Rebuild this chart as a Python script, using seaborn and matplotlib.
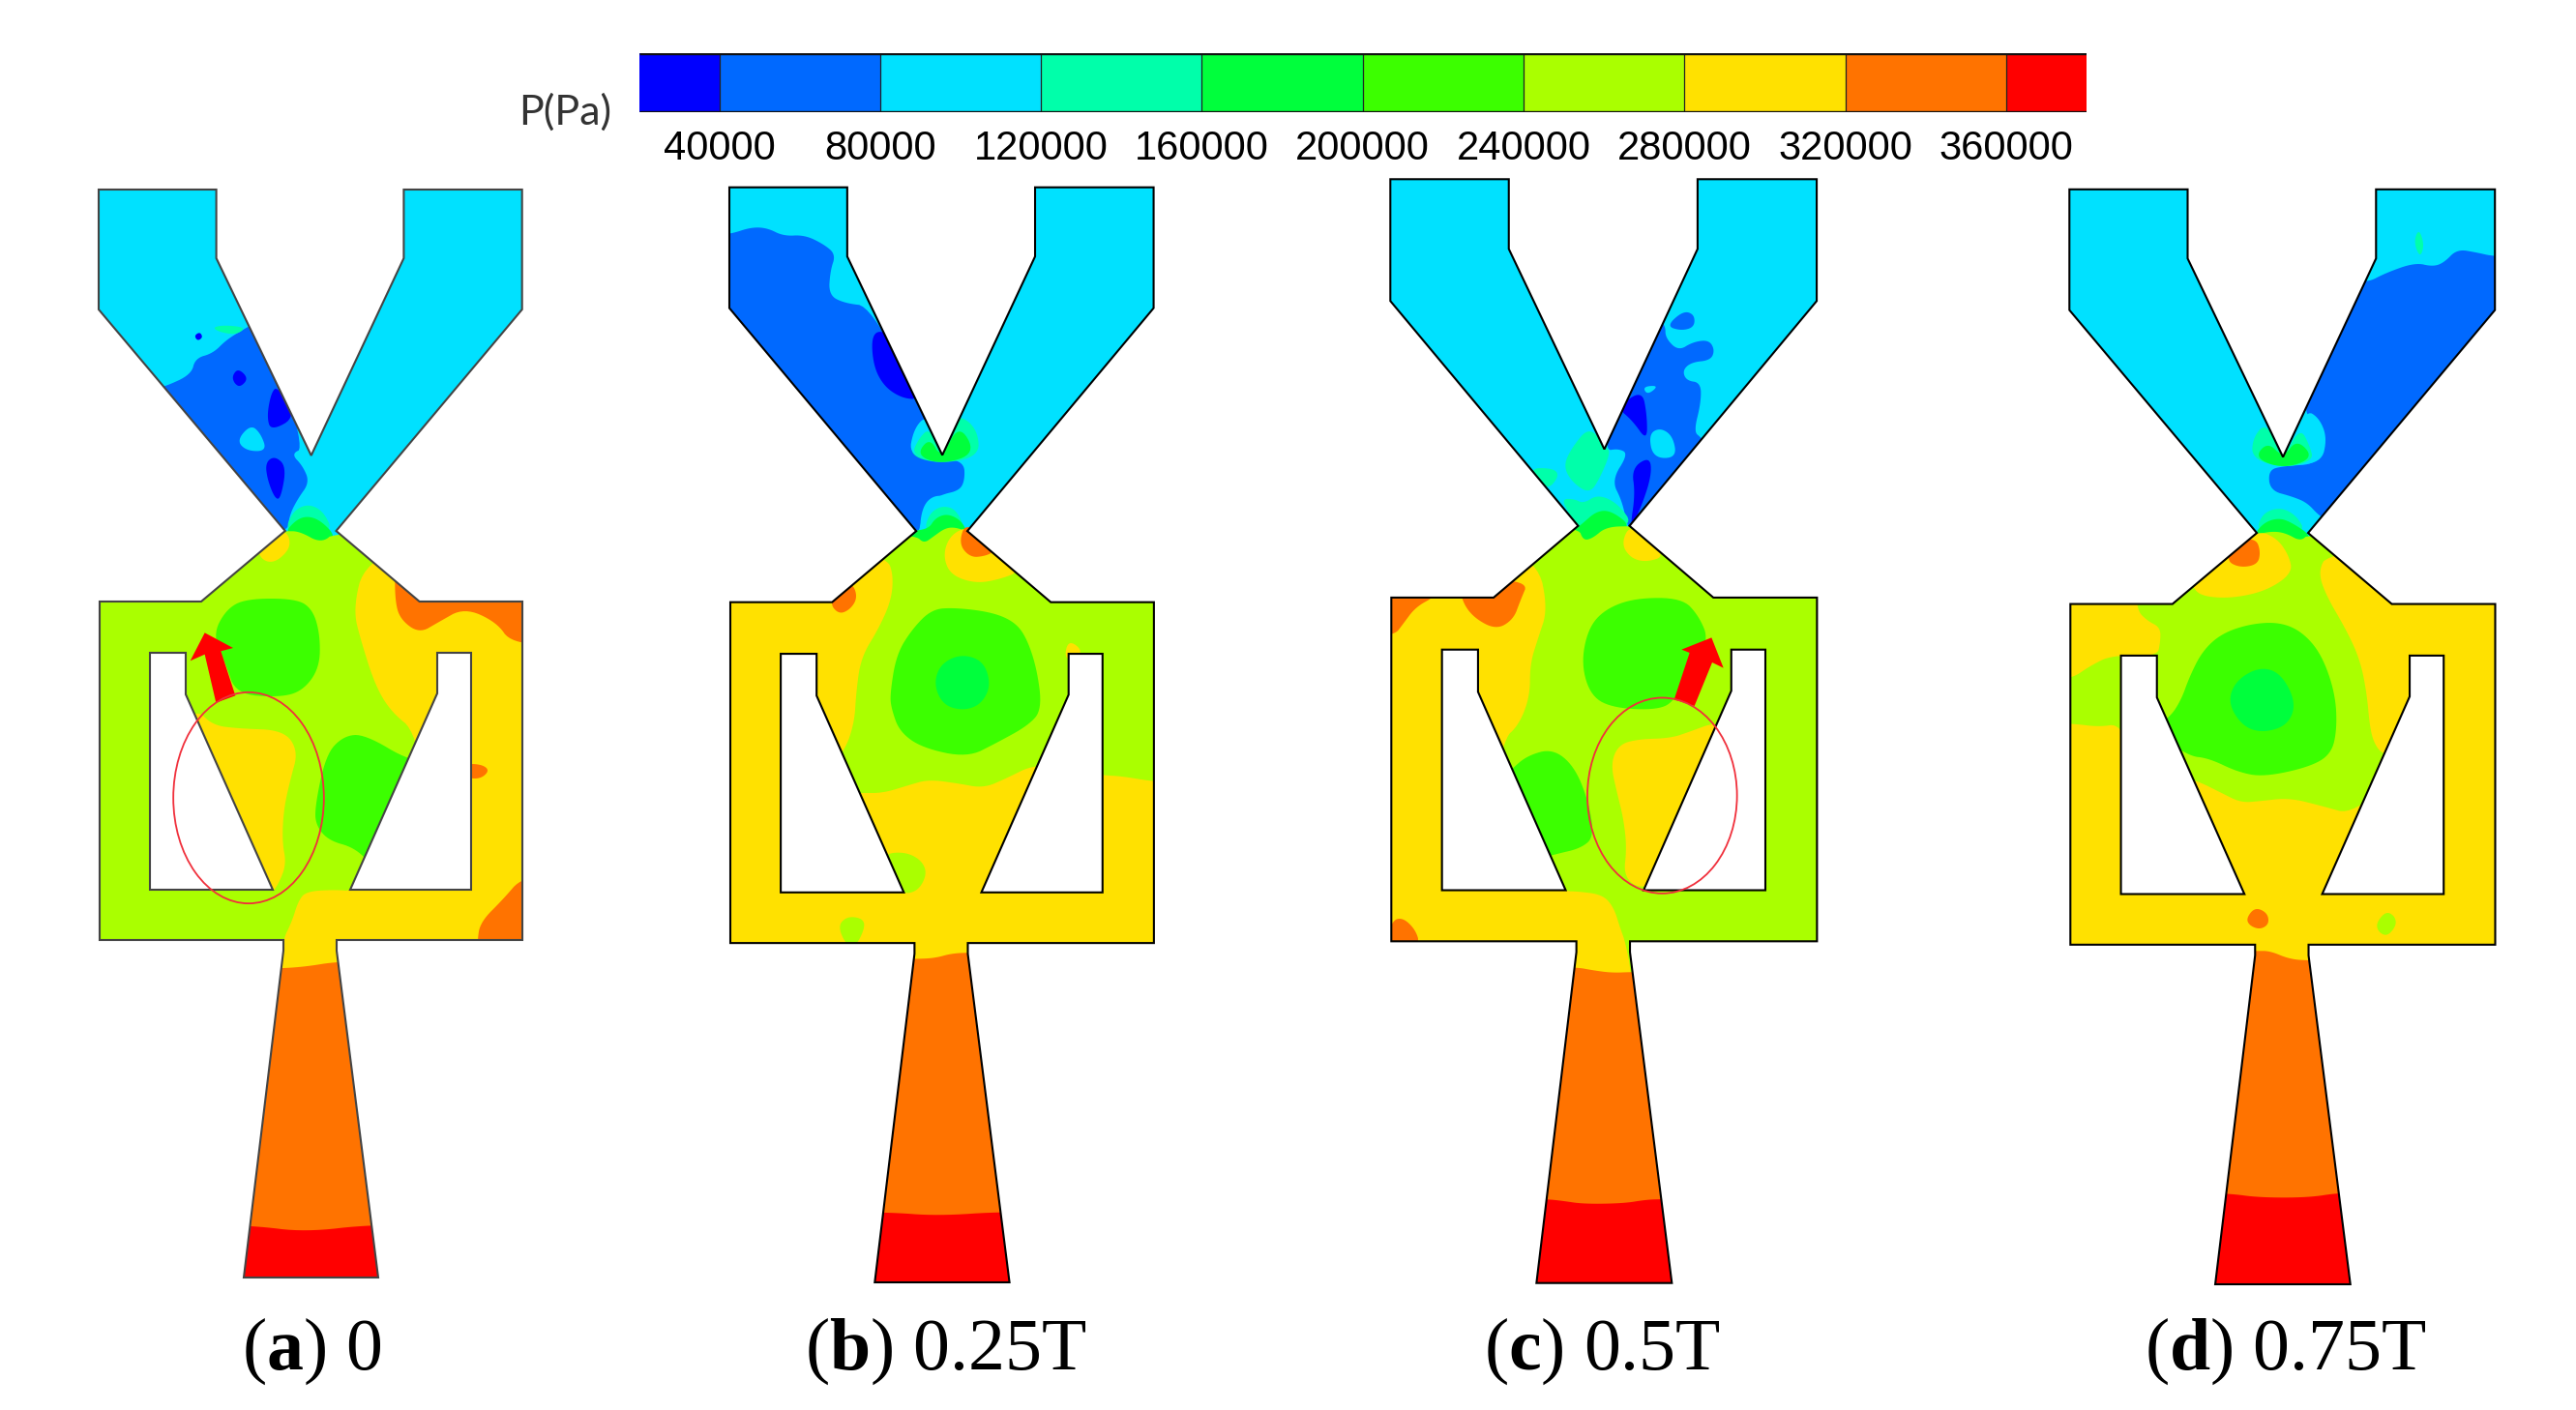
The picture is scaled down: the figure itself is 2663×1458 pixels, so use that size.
"""
plot.py - pressure contours P(Pa) in the valve at 0, 0.25T, 0.5T, 0.75T.
Contour bands were traced by hand from enlarged crops of the picture.
"""
import numpy as np
import matplotlib
matplotlib.use('Agg')
import matplotlib.pyplot as plt
from matplotlib.colors import ListedColormap, BoundaryNorm
from matplotlib.patches import Polygon, Ellipse
import seaborn as sns

# ─── COLOUR SCALE ───────────────────────────────────────────────────────────
LEVEL_COLORS = ['#0000FF', '#0069FF', '#00E1FF', '#00FFAA', '#00FF3C',
                '#3CFF00', '#AAFF00', '#FFE100', '#FF7300', '#FF0000']
LEVEL_EDGES = [20000, 40000, 80000, 120000, 160000, 200000,
               240000, 280000, 320000, 360000, 380000]
BAR_VALUES = [30000, 50000, 70000, 90000, 110000, 130000, 150000, 170000, 190000,
              210000, 230000, 250000, 270000, 290000, 310000, 330000, 350000, 370000]
BAR_TICKS = ['40000', '80000', '120000', '160000', '200000',
             '240000', '280000', '320000', '360000']

# ─── CROPS THE TRACES WERE READ FROM: x0, y0, x scale, y scale ──────────────
UP_A = (60, 160, 2.904, 2.376)
UP_B = (720, 160, 3, 2.376)
UP_C = (1420, 160, 3, 2.376)
UP_D = (2130, 160, 3, 2.376)
LOW_A = (80, 620, 3, 3)
LOW_B = (740, 620, 3, 3)
LOW_C = (1430, 620, 3, 3)
LOW_D = (2140, 620, 3, 3)
BOTTOM = (200, 1230, 1.3, 3)
BOTTOM_R = (1500, 1200, 1.568, 3)

# ─── VALVE GEOMETRY (px from the top left corner of the outlet) ─────────────
OUTLINE = [(0, 0), (121.6, 0), (121.6, 71), (219.7, 275), (315.4, 71), (315.4, 0),
           (437.7, 0), (437.7, 124), (245.5, 353), (331.6, 426), (438, 426), (438, 776),
           (246, 776), (246, 787), (289, 1125), (150, 1125), (191, 787), (191, 776),
           (1, 776), (1, 426), (106, 426), (192.8, 353), (0, 124)]
HOLE_LEFT = [(53, 479), (90, 479), (90, 522), (180, 724), (53, 724)]
HOLE_RIGHT = [(350, 479), (385, 479), (385, 724), (260, 724), (350, 521)]

# x, y, x stretch, y stretch, y of the nozzle end per panel
PLACE_A = (102, 196, 1.0, 1.0, 1321)
PLACE_B = (754, 193.7, 1.002, 1.007, 1326)
PLACE_C = (1437.3, 185.3, 1.007, 1.0155, 1326.7)
PLACE_D = (2139.3, 195.8, 1.005, 1.0065, 1328)

# ─── CONTOUR BANDS: (level, crop, trace), painted in this order ─────────────
REGIONS_A = [
    (1, UP_A, [(320, 570), (400, 540), (412, 500), (465, 488), (505, 455), (555, 430), (620, 400),
               (740, 720), (700, 735), (735, 765), (755, 805), (720, 845), (695, 885), (688, 930),
               (600, 900), (300, 640), (300, 570)]),
    (0, UP_A, [(525, 545), (540, 530), (565, 550), (545, 568), (530, 560)]),
    (0, UP_A, [(655, 575), (700, 640), (640, 670), (630, 640), (640, 590)]),
    (0, UP_A, [(625, 760), (650, 745), (680, 770), (665, 845), (650, 845), (630, 800)]),
    (0, UP_A, [(412, 445), (425, 438), (432, 448), (420, 455)]),
    (2, UP_A, [(545, 705), (580, 670), (605, 690), (620, 728), (570, 728)]),
    (3, UP_A, [(470, 425), (500, 420), (555, 425), (530, 440), (490, 435)]),
    (3, UP_A, [(690, 930), (710, 880), (750, 862), (790, 880), (815, 930)]),
    (4, UP_A, [(690, 930), (720, 900), (750, 890), (785, 900), (825, 935), (790, 960)]),
    (6, UP_A, [(600, 925), (682, 925), (725, 925), (790, 955), (835, 925), (1600, 925),
               (1600, 2200), (0, 2200), (0, 925)]),
    (7, UP_A, [(610, 990), (650, 1000), (695, 970), (695, 940), (670, 925), (600, 950)]),
    (7, LOW_A, [(891, -117), (1100, -200), (1500, -200), (1500, 1200), (630, 1200), (635, 1060),
                (665, 1000), (685, 935), (710, 905), (800, 900), (860, 905), (1100, 700),
                (1050, 410), (975, 350), (925, 270), (880, 130), (855, 30)]),
    (8, LOW_A, [(985, 0), (1000, 60), (1060, 105), (1120, 70), (1200, 25), (1300, 70), (1345, 135),
                (1500, 140), (1500, -100), (985, -100)]),
    (8, LOW_A, [(1240, 1060), (1250, 1000), (1320, 930), (1380, 860), (1500, 860), (1500, 1200),
                (1240, 1200)]),
    (8, LOW_A, [(1200, 510), (1250, 512), (1272, 530), (1245, 555), (1200, 550)]),
    (5, LOW_A, [(430, 110), (470, 30), (530, -3), (680, -3), (730, 30), (752, 110), (750, 210),
                (700, 280), (630, 300), (500, 290), (470, 200)]),
    (5, LOW_A, [(738, 640), (770, 480), (820, 425), (880, 420), (1010, 500), (1100, 500),
                (900, 800), (850, 750), (780, 730), (745, 690)]),
    (7, LOW_A, [(370, 340), (420, 390), (500, 400), (640, 405), (685, 470), (660, 560), (640, 650),
                (635, 750), (648, 820), (625, 880), (600, 915), (500, 800), (330, 400)]),
    (8, LOW_A, [(600, 1145), (700, 1140), (810, 1122), (1000, 1122), (1000, 2400), (400, 2400),
                (400, 1145)]),
    (9, BOTTOM, [(0, 110), (80, 112), (150, 132), (240, 108), (400, 108), (400, 400), (0, 400)]),
]

REGIONS_B = [
    (1, UP_B, [(60, 195), (105, 195), (170, 178), (220, 180), (270, 200), (335, 197), (395, 220),
               (432, 245), (415, 285), (410, 345), (460, 365), (540, 372), (700, 620), (760, 745),
               (830, 755), (832, 800), (815, 825), (760, 835), (715, 855), (695, 900), (690, 930),
               (600, 960), (60, 500)]),
    (0, UP_B, [(545, 445), (580, 435), (610, 480), (680, 600), (630, 598), (580, 570), (550, 520)]),
    (3, UP_B, [(668, 738), (675, 700), (720, 660), (820, 645), (870, 680), (875, 738), (760, 755)]),
    (2, UP_B, [(665, 738), (678, 680), (712, 650), (735, 700), (760, 745)]),
    (3, UP_B, [(675, 738), (695, 700), (720, 680), (760, 745)]),
    (4, UP_B, [(695, 738), (730, 705), (760, 745), (805, 680), (850, 735), (760, 755)]),
    (2, UP_B, [(695, 930), (705, 865), (740, 838), (790, 845), (825, 885), (835, 930)]),
    (3, UP_B, [(712, 930), (725, 885), (760, 865), (800, 875), (825, 930)]),
    (4, UP_B, [(660, 925), (720, 920), (740, 895), (775, 885), (815, 900), (835, 930), (800, 930),
               (735, 950), (705, 960), (670, 945)]),
    (6, UP_B, [(500, 930), (680, 935), (705, 955), (735, 938), (770, 918), (800, 915), (838, 925),
               (1600, 925), (1600, 2200), (0, 2200), (0, 930)]),
    (7, LOW_B, [(530, -130), (300, -200), (-50, -200), (-50, 1500), (1500, 1500), (1500, 570),
                (1360, 565), (1260, 548), (1200, 545), (1100, 530), (990, 510), (900, 555),
                (830, 585), (750, 570), (660, 558), (600, 575), (520, 600), (450, 600), (300, 600),
                (400, 470), (430, 380), (435, 290), (450, 180), (505, 90), (545, 0), (550, -80)]),
    (7, UP_B, [(770, 985), (790, 1030), (860, 1050), (930, 1040), (990, 1020), (900, 960),
               (840, 920), (790, 940)]),
    (8, UP_B, [(820, 960), (850, 988), (890, 985), (915, 975), (840, 915)]),
    (8, UP_B, [(420, 1100), (445, 1125), (475, 1115), (495, 1090), (485, 1060), (450, 1050)]),
    (7, UP_B, [(1145, 1235), (1155, 1200), (1190, 1220), (1170, 1240)]),
    (5, LOW_B, [(540, 295), (560, 170), (610, 90), (670, 30), (740, 25), (850, 38), (920, 65),
                (960, 110), (995, 210), (1012, 340), (970, 390), (870, 445), (780, 490), (640, 460),
                (570, 410), (545, 340)]),
    (4, LOW_B, [(682, 265), (700, 205), (760, 175), (825, 195), (847, 265), (820, 320), (770, 340),
                (710, 325)]),
    (6, LOW_B, [(530, 790), (590, 785), (635, 810), (650, 850), (625, 900), (580, 910), (500, 850)]),
    (6, LOW_B, [(385, 1015), (410, 985), (450, 990), (460, 1015), (435, 1075), (410, 1075)]),
    (8, LOW_B, [(620, 1115), (680, 1112), (730, 1098), (785, 1095), (1000, 1095), (1000, 2400),
                (400, 2400), (400, 1115)]),
    (9, BOTTOM, [(800, 70), (932, 70), (1000, 82), (1090, 68), (1300, 68), (1300, 400), (800, 400)]),
]

REGIONS_C = [
    (1, UP_C, [(905, 420), (905, 450), (945, 482), (990, 460), (1040, 455), (1058, 480), (1045, 505),
               (985, 510), (958, 530), (970, 555), (1015, 560), (1015, 610), (993, 680), (1015, 695),
               (1100, 760), (800, 930), (785, 905), (770, 850), (738, 800), (790, 735), (760, 722),
               (715, 728), (750, 600), (880, 400)]),
    (1, UP_C, [(920, 420), (965, 387), (995, 395), (995, 422), (960, 430)]),
    (2, UP_C, [(840, 570), (875, 568), (850, 585)]),
    (0, UP_C, [(770, 625), (835, 590), (848, 640), (848, 690), (810, 650)]),
    (0, UP_C, [(805, 775), (855, 750), (860, 790), (830, 860), (800, 905), (815, 830)]),
    (2, UP_C, [(858, 690), (890, 675), (925, 695), (935, 745), (870, 745)]),
    (3, UP_C, [(595, 765), (620, 725), (670, 680), (715, 725), (730, 735), (700, 790), (670, 825),
               (620, 800)]),
    (3, UP_C, [(495, 770), (555, 770), (570, 785), (540, 815)]),
    (3, UP_C, [(590, 850), (625, 850), (650, 860), (690, 840), (745, 860), (790, 910), (640, 925),
               (610, 880)]),
    (4, UP_C, [(620, 925), (650, 905), (690, 875), (730, 875), (785, 912), (720, 930), (650, 950)]),
    (6, UP_C, [(400, 915), (635, 915), (650, 948), (680, 942), (720, 915), (795, 912), (1600, 912),
               (1600, 2200), (0, 2200), (0, 915)]),
    (7, UP_C, [(775, 960), (795, 920), (830, 945), (890, 985), (840, 998), (800, 990)]),
    (7, LOW_C, [(480, -117), (300, -200), (-50, -200), (-50, 1300), (770, 1300), (770, 1160),
                (750, 1060), (735, 1020), (715, 955), (680, 915), (600, 905), (565, 905), (300, 800),
                (370, 435), (420, 390), (455, 300), (455, 200), (480, 120), (510, 30)]),
    (8, LOW_C, [(-50, -50), (160, -20), (160, 0), (100, 30), (60, 80), (35, 110), (-50, 110)]),
    (8, LOW_C, [(245, 0), (280, 50), (345, 85), (395, 55), (415, 0), (440, -60), (240, -60)]),
    (8, LOW_C, [(30, 1000), (60, 990), (95, 1025), (108, 1070), (30, 1110), (0, 1100)]),
    (5, LOW_C, [(620, 200), (640, 90), (690, 30), (780, -5), (920, -5), (970, 50), (1000, 125),
                (950, 200), (900, 310), (850, 340), (720, 335), (650, 300)]),
    (5, LOW_C, [(415, 530), (460, 490), (530, 470), (590, 520), (630, 620), (648, 730), (610, 765),
                (540, 782), (480, 800), (350, 600)]),
    (7, LOW_C, [(705, 510), (730, 450), (790, 433), (890, 430), (950, 410), (1030, 380), (1100, 400),
                (900, 860), (800, 900), (745, 860), (755, 770), (745, 680), (725, 600)]),
    (8, LOW_C, [(597, 1140), (650, 1150), (710, 1158), (775, 1155), (1000, 1155), (1000, 2400),
                (400, 2400), (400, 1140)]),
    (9, BOTTOM_R, [(100, 120), (155, 120), (180, 125), (215, 135), (280, 133), (315, 122), (340, 120),
                   (420, 120), (420, 500), (100, 500)]),
]

REGIONS_D = [
    (1, UP_D, [(950, 315), (1010, 290), (1100, 265), (1155, 275), (1190, 265), (1230, 232), (1290, 240),
               (1345, 250), (1450, 250), (1450, 500), (830, 900), (800, 885), (765, 855), (720, 840),
               (650, 825), (645, 775), (690, 765), (800, 760), (820, 700), (790, 650), (755, 635),
               (780, 540), (900, 300)]),
    (3, UP_D, [(1100, 215), (1112, 190), (1125, 220), (1115, 245)]),
    (2, UP_D, [(700, 760), (690, 745), (760, 635), (800, 655), (822, 700), (805, 758)]),
    (3, UP_D, [(595, 745), (600, 700), (640, 670), (690, 745), (740, 680), (770, 720), (780, 750),
               (690, 765)]),
    (4, UP_D, [(615, 745), (650, 715), (690, 745), (725, 710), (770, 745), (690, 765)]),
    (3, UP_D, [(615, 930), (630, 885), (680, 870), (725, 890), (750, 930)]),
    (4, UP_D, [(610, 935), (640, 905), (680, 895), (715, 905), (770, 935), (740, 955)]),
    (6, UP_D, [(400, 930), (610, 932), (660, 925), (700, 930), (745, 950), (772, 930), (1600, 930),
               (1600, 2200), (0, 2200), (0, 930)]),
    (7, UP_D, [(415, 1065), (450, 1085), (540, 1088), (640, 1070), (715, 1030), (705, 990), (670, 950),
               (610, 930), (400, 1000)]),
    (8, UP_D, [(522, 995), (560, 1012), (610, 1005), (618, 975), (605, 945), (550, 950)]),
    (7, LOW_D, [(800, -143), (1500, -300), (1500, 1500), (-50, 1500), (-50, 385), (10, 385), (90, 395),
                (155, 385), (200, 500), (390, 560), (470, 600), (530, 630), (590, 625), (680, 615),
                (780, 640), (880, 668), (1050, 500), (970, 480), (945, 450), (930, 400), (920, 290),
                (900, 190), (860, 100), (790, -20), (770, -90)]),
    (7, LOW_D, [(-50, -100), (205, -100), (205, 30), (240, 65), (280, 85), (280, 130), (270, 175),
                (130, 170), (60, 205), (10, 240), (-50, 245)]),
    (5, LOW_D, [(345, 310), (370, 240), (410, 160), (470, 105), (560, 75), (650, 70), (720, 100),
                (780, 170), (822, 290), (828, 400), (810, 480), (740, 520), (600, 550), (520, 535),
                (430, 492), (365, 485), (250, 400), (310, 365)]),
    (4, LOW_D, [(497, 320), (520, 255), (590, 215), (650, 235), (693, 320), (670, 385), (600, 408),
                (540, 390)]),
    (8, LOW_D, [(550, 990), (575, 960), (610, 975), (615, 1005), (590, 1020), (560, 1010)]),
    (6, LOW_D, [(952, 1005), (980, 972), (1005, 985), (1010, 1010), (985, 1040), (960, 1030)]),
    (8, LOW_D, [(580, 1090), (620, 1090), (680, 1115), (740, 1120), (1000, 1120), (1000, 2400),
                (400, 2400), (400, 1090)]),
    (9, BOTTOM_R, [(1200, 102), (1260, 102), (1310, 115), (1390, 115), (1440, 100), (1500, 100),
                   (1500, 500), (1200, 500)]),
]

# ─── ANNOTATIONS ────────────────────────────────────────────────────────────
ARROW_A = [(430, 320), (395, 170), (350, 190), (395, 103), (483, 150), (445, 160), (490, 298)]
ARROW_C = [(902, 310), (950, 165), (925, 155), (1018, 118), (1055, 212), (1020, 195), (965, 330)]
RING_A = (531, 615, 467, 655)
RING_C = (865, 608, 464, 607)

CAPTION_LETTERS = ['a', 'b', 'c', 'd']
CAPTION_TIMES = ['0', '0.25T', '0.5T', '0.75T']
CAPTION_X = [322, 977.6, 1656, 2363]


def to_px(crop, pts):
    """Trace coordinates -> picture pixels."""
    x0, y0, sx, sy = crop
    pts = np.asarray(pts, dtype=float)
    return np.column_stack([x0 + pts[:, 0] / sx, y0 + pts[:, 1] / sy])


def smooth(pts, rounds=3):
    """Chaikin corner cutting, contour bands have no sharp corners."""
    span = pts.max(axis=0) - pts.min(axis=0)
    mid = (pts.max(axis=0) + pts.min(axis=0)) / 2
    for _ in range(rounds):
        nxt = np.roll(pts, -1, axis=0)
        pts = np.column_stack([0.75 * pts + 0.25 * nxt, 0.25 * pts + 0.75 * nxt]).reshape(-1, 2)
    # small pockets shrink too much, give them their traced extent back
    if span.max() < 150:
        now = pts.max(axis=0) - pts.min(axis=0)
        pts = mid + (pts - (pts.max(axis=0) + pts.min(axis=0)) / 2) * span / now
    return pts


def place(pts, where):
    x0, y0, sx, sy = where[:4]
    pts = np.asarray(pts, dtype=float)
    return np.column_stack([x0 + pts[:, 0] * sx, y0 + pts[:, 1] * sy])


def draw_panel(ax, where, regions, edge='black'):
    shape = place(OUTLINE, where)
    shape[np.asarray(OUTLINE)[:, 1] == 1125, 1] = where[4]
    outline = Polygon(shape, closed=True, fc=LEVEL_COLORS[2], ec='none', zorder=1)
    ax.add_patch(outline)
    for z, (level, crop, pts) in enumerate(regions):
        band = Polygon(smooth(to_px(crop, pts)), closed=True, fc=LEVEL_COLORS[level],
                       ec='none', zorder=2 + z * 0.01)
        ax.add_patch(band)
        band.set_clip_path(outline)
    ax.add_patch(Polygon(shape, closed=True, fc='none', ec=edge, lw=1.5, zorder=4))
    for hole in (HOLE_LEFT, HOLE_RIGHT):
        ax.add_patch(Polygon(place(hole, where), closed=True, fc='white', ec=edge, lw=1.5, zorder=3))


def main():
    sns.set_theme(style='white')
    plt.rcParams['font.family'] = ['Liberation Sans', 'DejaVu Sans']
    plt.rcParams['mathtext.fontset'] = 'custom'
    plt.rcParams['mathtext.bf'] = 'Liberation Serif:bold'
    plt.rcParams['mathtext.rm'] = 'Liberation Serif'

    W, H = 2663, 1458
    fig = plt.figure(figsize=(W / 100, H / 100), dpi=100, facecolor='white')
    ax = fig.add_axes([0, 0, 1, 1])
    ax.set_xlim(0, W)
    ax.set_ylim(H, 0)
    ax.axis('off')

    draw_panel(ax, PLACE_A, REGIONS_A, edge='#444444')
    draw_panel(ax, PLACE_B, REGIONS_B)
    draw_panel(ax, PLACE_C, REGIONS_C)
    draw_panel(ax, PLACE_D, REGIONS_D)

    # Red arrows and rings of panels a and c
    ax.add_patch(Polygon(to_px(LOW_A, ARROW_A), closed=True, fc='#FF0000', ec='none', zorder=5))
    ax.add_patch(Polygon(to_px(LOW_C, ARROW_C), closed=True, fc='#FF0000', ec='none', zorder=5))
    for crop, (cx, cy, w, h) in ((LOW_A, RING_A), (LOW_C, RING_C)):
        centre = to_px(crop, [(cx, cy)])[0]
        ax.add_patch(Ellipse(centre, w / 3, h / 3, fc='none', ec='#F0303C', lw=1.3, zorder=6))

    # Colour bar: one heatmap row, half cells at both ends
    cax = fig.add_axes([660.5 / W, 1 - 116 / H, (2157 - 660.5) / W, 61 / H])
    cmap = ListedColormap(LEVEL_COLORS)
    norm = BoundaryNorm(LEVEL_EDGES, cmap.N)
    sns.heatmap(np.array([BAR_VALUES]), ax=cax, cmap=cmap, norm=norm, cbar=False,
                xticklabels=False, yticklabels=False)
    tick_pos = np.arange(1, len(BAR_VALUES), 2)
    cax.vlines(tick_pos, 0, 1, colors='#222222', lw=0.9)
    cax.hlines([0, 1], 0, len(BAR_VALUES), colors='#111111', lw=2.4)
    cax.set_xticks(tick_pos)
    cax.set_xticklabels(BAR_TICKS, rotation=0, fontsize=30, color='black')
    cax.tick_params(axis='x', length=0, pad=13, bottom=True)

    ax.text(584, 116, 'P(Pa)', fontsize=31, family='Lato', color='#333333', ha='center', va='center')

    for letter, time, x in zip(CAPTION_LETTERS, CAPTION_TIMES, CAPTION_X):
        ax.text(x, 1416, '(' + r'$\mathbf{' + letter + '}$' + ') ' + time, fontsize=54.5,
                family='Liberation Serif', color='black', ha='center', va='baseline')

    fig.savefig('out.png', dpi=100)


if __name__ == '__main__':
    main()
